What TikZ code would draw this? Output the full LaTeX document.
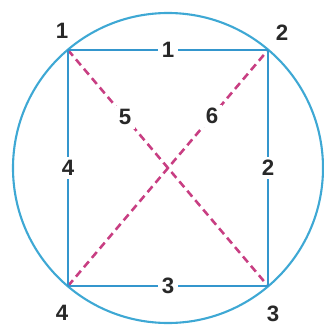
\documentclass[tikz,border=0pt]{standalone}
\usepackage{fontspec}
\setmainfont{Liberation Sans}
\usepackage{tikz}
\usetikzlibrary{positioning,calc}
\definecolor{ringblue}{RGB}{62,168,212}
\definecolor{sideblue}{RGB}{52,150,205}
\definecolor{diagpink}{RGB}{200,62,130}
\definecolor{numgray}{RGB}{40,40,40}
\tikzset{
  ring/.style={draw=ringblue, line width=1.8pt},
  side/.style={draw=sideblue, line width=1.9pt},
  diag/.style={draw=diagpink, line width=2.2pt, dash pattern=on 6.5pt off 4pt},
  num/.style={text=numgray, font=\fontsize{19}{22}\selectfont\bfseries, inner sep=1pt},
  gap/.style={num, fill=white, inner sep=3pt}
}

\begin{document}
\begin{tikzpicture}[x=0.03cm,y=-0.03cm]
  \useasboundingbox (0,0) rectangle (323,327);
  \coordinate (O) at (168,168);
  \coordinate (p1) at (68,50);
  \coordinate (p2) at (268,50);
  \coordinate (p3) at (268,286);
  \coordinate (p4) at (68,286);
  \draw[ring] (O) circle (155);
  \draw[diag] (p1) -- node[gap, pos=0.285] (d5) {5} (p3);
  \draw[diag] (p4) -- node[gap, pos=0.72] (d6) {6} (p2);
  \draw[side] (p1) -- node[gap] (s1) {1} (p2);
  \draw[side] (p2) -- node[gap] (s2) {2} (p3);
  \draw[side] (p3) -- node[gap] (s3) {3} (p4);
  \draw[side] (p4) -- node[gap] (s4) {4} (p1);
  \node[num] (c1) at (62,31) {1};
  \node[num] (c2) at (282,33) {2};
  \node[num] (c3) at (273,314) {3};
  \node[num] (c4) at (62,313) {4};
\end{tikzpicture}
\end{document}
